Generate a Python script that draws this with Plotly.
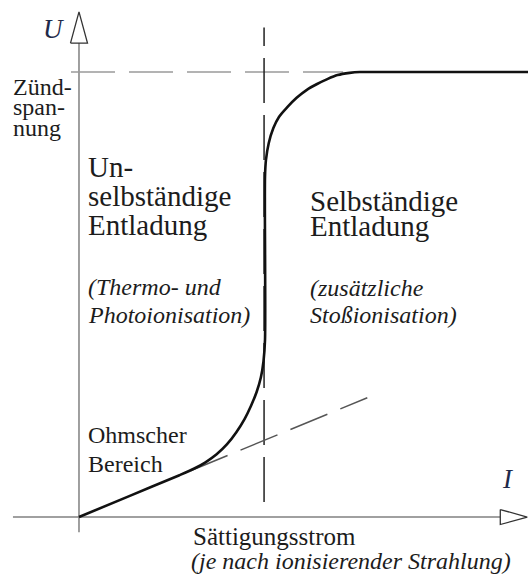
import plotly.graph_objects as go

# ---- data (I in arbitrary units, Saettigungsstrom = 10; U in % of Zuendspannung = 100) ----
I_curve = [0, 2.7, 5.4, 6.2, 6.8, 7.4, 7.95, 8.45, 8.9, 9.25, 9.55, 9.78, 9.92, 10.0, 10.0,
           10.05, 10.2, 10.45, 10.75, 11.2, 11.7, 12.25, 12.8, 13.35, 13.9, 14.55,
           15.1, 15.65, 24.5]
U_curve = [0, 4.7, 9.4, 10.9, 12.3, 14.1, 16.3, 19.0, 22.0, 25.0, 28.1, 31.4, 35.0, 39.8, 76.4,
           80.2, 84.0, 87.4, 89.9, 92.1, 94.2, 96.0, 97.3, 98.4, 99.3, 99.8,
           100, 100, 100]

I_ohm = [6.0, 15.5]          # ohmic extrapolation (dashed)
U_ohm = [10.4, 26.8]

I_sat = 10.0                 # Saettigungsstrom
U_zuend = 100.0              # Zuendspannung
I_zuend_line = [-0.43, 14.2]
U_sat_line = [3.4, 110.0]

I_axis = [-3.55, 22.65, 24.1]    # start, arrow base, arrow tip
U_axis = [-3.4, 106.5, 113.5]

X_RANGE = [-4.247, 24.14]
Y_RANGE = [-13.48, 116.18]
W, H = 528, 577

def px2x(px):
    return X_RANGE[0] + px / W * (X_RANGE[1] - X_RANGE[0])

def py2y(py):
    return Y_RANGE[1] - py / H * (Y_RANGE[1] - Y_RANGE[0])

ux = (X_RANGE[1] - X_RANGE[0]) / W   # data units per pixel
uy = (Y_RANGE[1] - Y_RANGE[0]) / H

fig = go.Figure()

AX_COL = "#808080"
fig.add_trace(go.Scatter(x=[0, 0], y=[U_axis[0], U_axis[1]], mode="lines",
                         line=dict(color=AX_COL, width=1.5), hoverinfo="skip"))
fig.add_trace(go.Scatter(x=[I_axis[0], I_axis[1]], y=[0, 0], mode="lines",
                         line=dict(color=AX_COL, width=1.5), hoverinfo="skip"))
fig.add_trace(go.Scatter(x=[-8.5 * ux, 0, 8.5 * ux, -8.5 * ux],
                         y=[U_axis[1], U_axis[2], U_axis[1], U_axis[1]],
                         mode="lines", fill="toself", fillcolor="white",
                         line=dict(color="#333333", width=1.3), hoverinfo="skip"))
fig.add_trace(go.Scatter(x=[I_axis[1], I_axis[2], I_axis[1], I_axis[1]],
                         y=[7.5 * uy, 0, -7.5 * uy, 7.5 * uy],
                         mode="lines", fill="toself", fillcolor="white",
                         line=dict(color="#333333", width=1.3), hoverinfo="skip"))

fig.add_trace(go.Scatter(x=I_zuend_line, y=[U_zuend, U_zuend], mode="lines",
                         line=dict(color="#9a9a9a", width=1.5, dash="44px,14px"),
                         hoverinfo="skip"))
fig.add_trace(go.Scatter(x=[I_sat - 0.05, I_sat - 0.05], y=U_sat_line, mode="lines",
                         line=dict(color="#222222", width=1.5, dash="45px,12px"),
                         hoverinfo="skip"))
fig.add_trace(go.Scatter(x=I_ohm, y=U_ohm, mode="lines",
                         line=dict(color="#555555", width=1.5, dash="40px,14px"),
                         hoverinfo="skip"))
fig.add_trace(go.Scatter(x=I_curve, y=U_curve, mode="lines",
                         line=dict(color="#111111", width=2.6, shape="spline", smoothing=0.8),
                         hoverinfo="skip"))

TXT = "#1c1c1c"

def label(text, left, baseline, size, italic=False, color=TXT):
    center = baseline - 0.34 * size
    txt = f"<i>{text}</i>" if italic else text
    fig.add_annotation(x=px2x(left), y=py2y(center), xref="x", yref="y",
                       text=txt, showarrow=False, xanchor="left", yanchor="middle",
                       font=dict(family="Liberation Serif", size=size, color=color))

label("U", 41, 38, 27, italic=True, color="#1f2a4a")
label("Zünd-", 11, 95, 24)
label("span-", 11, 115, 24)
label("nung", 11, 136, 24)

label("Un-", 86, 177, 29)
label("selbständige", 86, 206, 29)
label("Entladung", 86, 235, 29)
label("(Thermo- und", 86, 295, 24, italic=True)
label("Photoionisation)", 86, 323, 24, italic=True)

label("Selbständige", 308, 211, 29)
label("Entladung", 308, 236, 29)
label("(zusätzliche", 308, 296, 24, italic=True)
label("Stoßionisation)", 308, 323, 24, italic=True)

label("Ohmscher", 86, 443, 24)
label("Bereich", 86, 472, 24)

label("I", 500, 488, 27, italic=True, color="#1f2a4a")

label("Sättigungsstrom", 191, 545, 25)
label("(je nach ionisierender Strahlung)", 189, 569, 24, italic=True)

fig.update_layout(
    width=W, height=H, margin=dict(l=0, r=0, t=0, b=0),
    paper_bgcolor="white", plot_bgcolor="white", showlegend=False,
    xaxis=dict(range=X_RANGE, visible=False, fixedrange=True),
    yaxis=dict(range=Y_RANGE, visible=False, fixedrange=True),
)

fig.write_html("out.html", config={"displayModeBar": False},
               post_script="document.body.style.margin='0';document.body.style.overflow='hidden';")
